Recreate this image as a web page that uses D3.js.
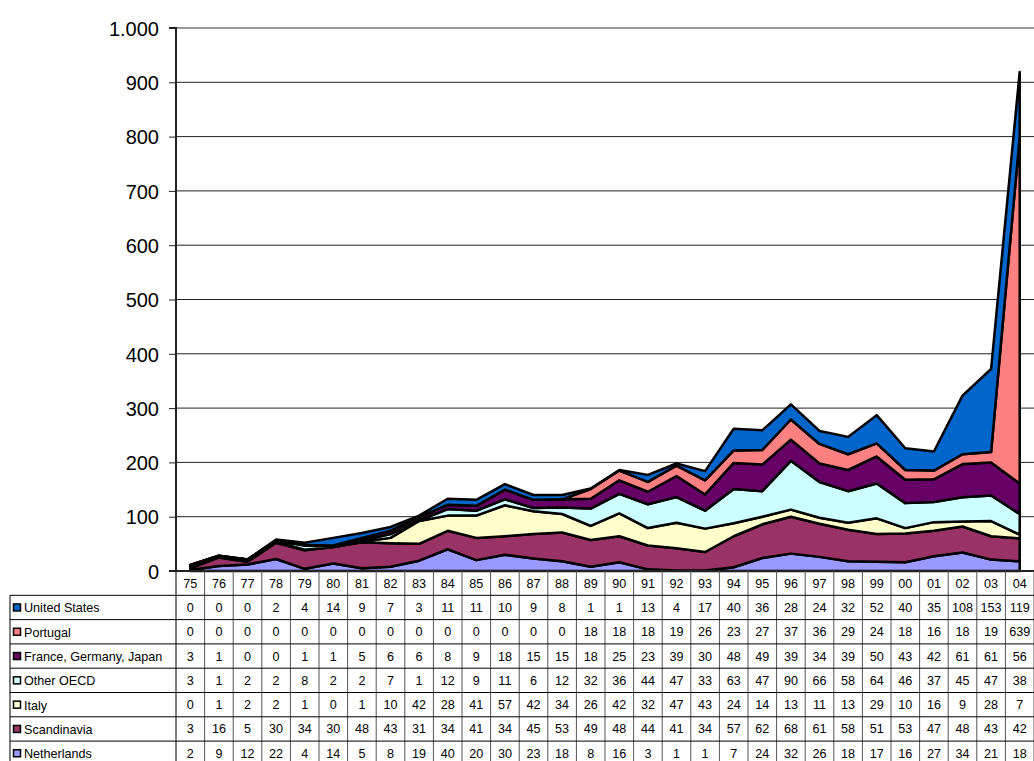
<!DOCTYPE html>
<html>
<head>
<meta charset="utf-8">
<script src="https://cdn.jsdelivr.net/npm/d3@7"></script>
<style>
  body { margin: 0; background: #fff; }
  svg { display: block; font-family: "Liberation Sans", Arial, sans-serif; }
</style>
</head>
<body>
<div id="chart"></div>
<script>
const years = ["75","76","77","78","79","80","81","82","83","84","85","86","87","88","89",
               "90","91","92","93","94","95","96","97","98","99","00","01","02","03","04"];

const unitedStates = [0,0,0,2,4,14,9,7,3,11,11,10,9,8,1,1,13,4,17,40,36,28,24,32,52,40,35,108,153,119];
const portugal     = [0,0,0,0,0,0,0,0,0,0,0,0,0,0,18,18,18,19,26,23,27,37,36,29,24,18,16,18,19,639];
const franceGerJap = [3,1,0,0,1,1,5,6,6,8,9,18,15,15,18,25,23,39,30,48,49,39,34,39,50,43,42,61,61,56];
const otherOECD    = [3,1,2,2,8,2,2,7,1,12,9,11,6,12,32,36,44,47,33,63,47,90,66,58,64,46,37,45,47,38];
const italy        = [0,1,2,2,1,0,1,10,42,28,41,57,42,34,26,42,32,47,43,24,14,13,11,13,29,10,16,9,28,7];
const scandinavia  = [3,16,5,30,34,30,48,43,31,34,41,34,45,53,49,48,44,41,34,57,62,68,61,58,51,53,47,48,43,42];
const netherlands  = [2,9,12,22,4,14,5,8,19,40,20,30,23,18,8,16,3,1,1,7,24,32,26,18,17,16,27,34,21,18];

const yTicks = [0,100,200,300,400,500,600,700,800,900,1000];

// table order (top to bottom) and stack order (bottom to top) are reversed
const series = [
  { key: "United States", values: unitedStates, color: "#0066CC" },
  { key: "Portugal", values: portugal, color: "#FF8080" },
  { key: "France, Germany, Japan", values: franceGerJap, color: "#660066" },
  { key: "Other OECD", values: otherOECD, color: "#CCFFFF" },
  { key: "Italy", values: italy, color: "#FFFFCC" },
  { key: "Scandinavia", values: scandinavia, color: "#993366" },
  { key: "Netherlands", values: netherlands, color: "#9999FF" }
];

const W = 1034, H = 761;
const m = { left: 176, right: 1034, top: 28, bottom: 571 };
const rowH = 24.3, tableLeft = 10;

const svg = d3.select("#chart").append("svg")
  .attr("width", W).attr("height", H);

const x = d3.scaleBand().domain(years).range([m.left, m.right]);
const y = d3.scaleLinear().domain([0, 1000]).range([m.bottom, m.top]);

// gridlines
svg.append("g")
  .selectAll("line")
  .data(yTicks.filter(d => d > 0))
  .enter().append("line")
    .attr("x1", m.left).attr("x2", m.right)
    .attr("y1", d => y(d)).attr("y2", d => y(d))
    .attr("stroke", d => d === 1000 ? "#9a9a9a" : "#222")
    .attr("stroke-width", d => d === 1000 ? 2 : 1);

// stacked areas
const stackKeys = series.slice().reverse();
const table = years.map((yr, i) => {
  const row = { year: yr };
  series.forEach(s => { row[s.key] = s.values[i]; });
  return row;
});
const stack = d3.stack().keys(stackKeys.map(s => s.key));
const layers = stack(table);

const area = d3.area()
  .x(d => x(d.data.year) + x.bandwidth() / 2)
  .y0(d => y(d[0]))
  .y1(d => y(d[1]));

svg.append("g")
  .selectAll("path")
  .data(layers)
  .enter().append("path")
    .attr("d", area)
    .attr("fill", (d, i) => stackKeys[i].color)
    .attr("stroke", "#000")
    .attr("stroke-width", 2.5)
    .attr("stroke-linejoin", "round");

// y axis
const yAxis = d3.axisLeft(y)
  .tickValues(yTicks)
  .tickSize(7)
  .tickFormat(d => d === 1000 ? "1.000" : d);
const ga = svg.append("g")
  .attr("transform", `translate(${m.left},0)`)
  .call(yAxis);
ga.select(".domain").attr("stroke", "#222").attr("stroke-width", 2)
  .attr("d", `M-7,${m.top}H0V${m.bottom}H-7`);
ga.selectAll(".tick line").attr("stroke", "#222");
ga.selectAll(".tick text")
  .attr("x", -17)
  .attr("dy", "0.36em")
  .attr("font-size", 20)
  .attr("font-weight", "normal")
  .attr("font-family", "Liberation Sans, Arial, sans-serif")
  .attr("fill", "#000");

// x axis line
svg.append("line")
  .attr("x1", m.left).attr("x2", m.right)
  .attr("y1", m.bottom).attr("y2", m.bottom)
  .attr("stroke", "#222").attr("stroke-width", 2);

// data table
const tbl = svg.append("g").attr("font-size", 12.6).attr("fill", "#000");
const headTop = m.bottom, bodyTop = m.bottom + rowH;

// header labels
tbl.selectAll("text.year")
  .data(years)
  .enter().append("text")
    .attr("class", "year")
    .attr("x", d => x(d) + x.bandwidth() / 2)
    .attr("y", headTop + rowH / 2 + 4.5)
    .attr("text-anchor", "middle")
    .text(d => d);

// vertical lines of the grid
tbl.selectAll("line.v")
  .data(d3.range(years.length + 1))
  .enter().append("line")
    .attr("class", "v")
    .attr("x1", i => m.left + i * x.bandwidth())
    .attr("x2", i => m.left + i * x.bandwidth())
    .attr("y1", headTop).attr("y2", H)
    .attr("stroke", i => i === 0 ? "#000" : "#555")
    .attr("stroke-width", 1);

// horizontal lines
tbl.selectAll("line.h")
  .data(d3.range(series.length + 1))
  .enter().append("line")
    .attr("class", "h")
    .attr("x1", tableLeft).attr("x2", m.right)
    .attr("y1", i => bodyTop + i * rowH)
    .attr("y2", i => bodyTop + i * rowH)
    .attr("stroke", "#000").attr("stroke-width", 1);

tbl.append("line")
  .attr("x1", tableLeft).attr("x2", tableLeft)
  .attr("y1", bodyTop).attr("y2", H)
  .attr("stroke", "#000");

const rows = tbl.selectAll("g.row")
  .data(series)
  .enter().append("g")
    .attr("class", "row")
    .attr("transform", (d, i) => `translate(0,${bodyTop + i * rowH})`);

rows.append("rect")
  .attr("x", 13.5).attr("y", rowH / 2 - 3.5)
  .attr("width", 7).attr("height", 7)
  .attr("fill", d => d.color)
  .attr("stroke", "#000").attr("stroke-width", 1.5);

rows.append("text")
  .attr("x", 24)
  .attr("y", rowH / 2 + 5)
  .text(d => d.key);

rows.selectAll("text.val")
  .data(d => d.values)
  .enter().append("text")
    .attr("class", "val")
    .attr("x", (v, i) => x(years[i]) + x.bandwidth() / 2)
    .attr("y", rowH / 2 + 4.5)
    .attr("text-anchor", "middle")
    .text(v => v);
</script>
</body>
</html>
